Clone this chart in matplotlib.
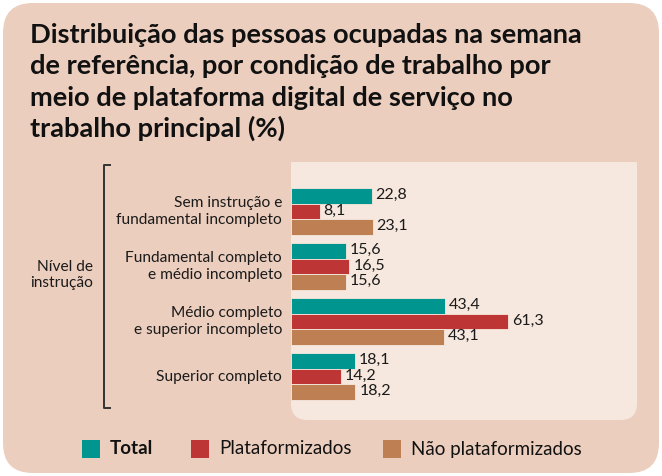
import matplotlib
matplotlib.use("Agg")
import matplotlib.pyplot as plt
from matplotlib.patches import FancyBboxPatch, Rectangle
from matplotlib.lines import Line2D
import numpy as np

plt.rcParams['font.family'] = ['Lato', 'DejaVu Sans']

title = ("Distribuição das pessoas ocupadas na semana\n"
         "de referência, por condição de trabalho por\n"
         "meio de plataforma digital de serviço no\n"
         "trabalho principal (%)")
categories = ["Sem instrução e\nfundamental incompleto",
              "Fundamental completo\ne médio incompleto",
              "Médio completo\ne superior incompleto",
              "Superior completo"]
series_names = ["Total", "Plataformizados", "Não plataformizados"]
total = [22.8, 15.6, 43.4, 18.1]
plataformizados = [8.1, 16.5, 61.3, 14.2]
nao_plataformizados = [23.1, 15.6, 43.1, 18.2]
axis_label = "Nível de\ninstrução"

colors = ["#00968F", "#BE3535", "#BE7F52"]
bg = "#ECCEBE"
panel = "#F7E8DF"

W, H = 662, 476
fig = plt.figure(figsize=(W/100, H/100), dpi=100)
fig.patch.set_facecolor("white")

def fx(x): return x / W
def fy(y): return 1 - y / H

# outer background
outer = FancyBboxPatch((fx(3), fy(473)), fx(656), 470/H,
                       boxstyle="round,pad=0,rounding_size=0.045",
                       transform=fig.transFigure, facecolor=bg, edgecolor="none",
                       mutation_aspect=W/H, zorder=-10)
fig.patches.append(outer)

# inner panel (rounded bottom corners)
pl, pr, pt, pb = 291, 637, 162, 420
inner = FancyBboxPatch((fx(pl), fy(pb)), fx(pr - pl), (pb - pt)/H,
                       boxstyle="round,pad=0,rounding_size=0.025",
                       transform=fig.transFigure, facecolor=panel, edgecolor="none",
                       mutation_aspect=W/H, zorder=-9)
fig.patches.append(inner)
fig.patches.append(Rectangle((fx(pl), fy(pt + 60)), fx(pr - pl), 60/H,
                             transform=fig.transFigure, facecolor=panel, edgecolor="none",
                             zorder=-9))

ax = fig.add_axes([fx(pl), fy(pb), fx(pr - pl), (pb - pt)/H])
ax.set_facecolor("none")
ax.set_zorder(5)
px_per_unit = 3.54
ax.set_xlim(0, (pr - pl) / px_per_unit)
spacing = 55.0
c0 = 211.5
ax.set_ylim((pb - c0)/spacing, (pt - c0)/spacing)
bh = 15.7/spacing
y = np.arange(len(categories))
data = [total, plataformizados, nao_plataformizados]
for k, (vals, col) in enumerate(zip(data, colors)):
    pos = y + (k - 1) * bh
    ax.barh(pos, vals, height=bh, color=col, edgecolor=panel, linewidth=0.6)
    for p, v in zip(pos, vals):
        ax.text(v + 1.1, p - 0.02, f"{v:.1f}".replace(".", ","), va="center", ha="left",
                fontsize=11.5, color="#1a1a1a")
ax.axis("off")

# category labels
for i, cat in enumerate(categories):
    fig.text(fx(282), fy(c0 + spacing*i), cat, ha="right", va="center",
             fontsize=11.2, color="#1a1a1a", linespacing=1.2)

# bracket
bx = 104
fig.add_artist(Line2D([fx(bx + 6), fx(bx), fx(bx), fx(bx + 6)],
                      [fy(165), fy(165), fy(408), fy(408)],
                      transform=fig.transFigure, color="#333333", lw=1.4))
fig.text(fx(93), fy(275), axis_label, ha="right", va="center", fontsize=11.2,
         color="#1a1a1a", linespacing=1.2)

# title
fig.text(fx(30), fy(43), title.split("\n")[0], ha="left", va="baseline", fontsize=19.6,
         fontweight="bold", color="#111111")
for j, line in enumerate(title.split("\n")[1:], start=1):
    fig.text(fx(30), fy(43 + 31.3*j), line, ha="left", va="baseline", fontsize=19.6,
             fontweight="bold", color="#111111")

# legend
lx = [82, 191, 383]
for xx, name, col in zip(lx, series_names, colors):
    fig.patches.append(Rectangle((fx(xx), fy(458)), fx(18), 18/H,
                                 transform=fig.transFigure, facecolor=col, edgecolor="none"))
    fig.text(fx(xx + 28), fy(449), name, ha="left", va="center", fontsize=13.5,
             fontweight="bold" if name == "Total" else "normal", color="#111111")

fig.savefig("out.png", dpi=100, facecolor=fig.get_facecolor())
